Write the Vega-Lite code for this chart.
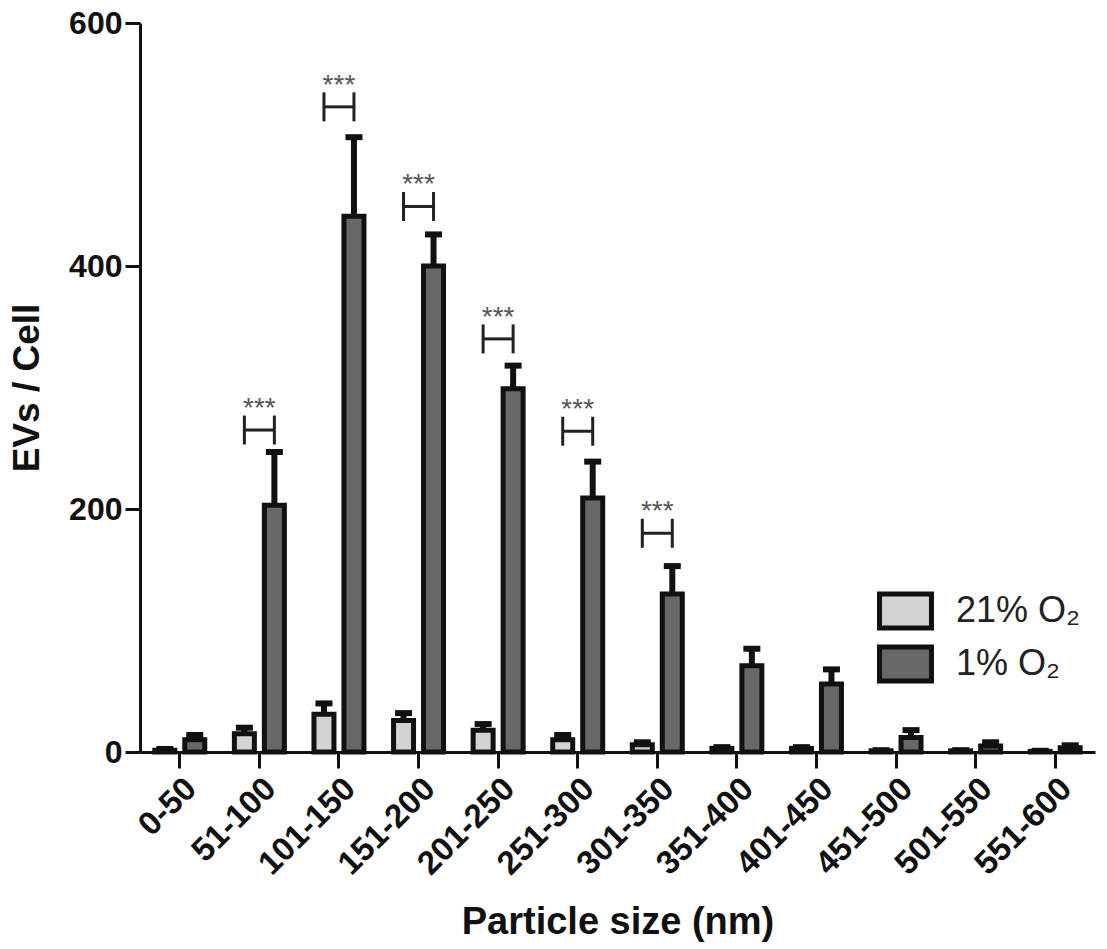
{
  "$schema": "https://vega.github.io/schema/vega-lite/v6.json",
  "autosize": {"type": "none"},
  "padding": {"left": 140, "top": 23, "right": 12, "bottom": 197},
  "width": 955,
  "height": 729,
  "background": "white",
  "config": {"view": {"stroke": null}, "font": "Liberation Sans"},
  "data": {"values": [
    {"size": "0-50", "O2": "21% O₂", "mean": 1.5, "upper": 2.5},
    {"size": "0-50", "O2": "1% O₂", "mean": 10, "upper": 14},
    {"size": "51-100", "O2": "21% O₂", "mean": 15, "upper": 20, "bracket": 265, "sig": "***"},
    {"size": "51-100", "O2": "1% O₂", "mean": 203, "upper": 247, "bracket": 265, "sig": "***"},
    {"size": "101-150", "O2": "21% O₂", "mean": 31, "upper": 40, "bracket": 531, "sig": "***"},
    {"size": "101-150", "O2": "1% O₂", "mean": 441, "upper": 506, "bracket": 531, "sig": "***"},
    {"size": "151-200", "O2": "21% O₂", "mean": 26, "upper": 32, "bracket": 449, "sig": "***"},
    {"size": "151-200", "O2": "1% O₂", "mean": 400, "upper": 426, "bracket": 449, "sig": "***"},
    {"size": "201-250", "O2": "21% O₂", "mean": 18, "upper": 23, "bracket": 340, "sig": "***"},
    {"size": "201-250", "O2": "1% O₂", "mean": 299, "upper": 318, "bracket": 340, "sig": "***"},
    {"size": "251-300", "O2": "21% O₂", "mean": 10, "upper": 14, "bracket": 264, "sig": "***"},
    {"size": "251-300", "O2": "1% O₂", "mean": 209, "upper": 239, "bracket": 264, "sig": "***"},
    {"size": "301-350", "O2": "21% O₂", "mean": 6, "upper": 8, "bracket": 180, "sig": "***"},
    {"size": "301-350", "O2": "1% O₂", "mean": 130, "upper": 153, "bracket": 180, "sig": "***"},
    {"size": "351-400", "O2": "21% O₂", "mean": 3, "upper": 4},
    {"size": "351-400", "O2": "1% O₂", "mean": 71, "upper": 85},
    {"size": "401-450", "O2": "21% O₂", "mean": 3, "upper": 4},
    {"size": "401-450", "O2": "1% O₂", "mean": 56, "upper": 68},
    {"size": "451-500", "O2": "21% O₂", "mean": 1, "upper": 1.5},
    {"size": "451-500", "O2": "1% O₂", "mean": 12, "upper": 18},
    {"size": "501-550", "O2": "21% O₂", "mean": 1, "upper": 1.5},
    {"size": "501-550", "O2": "1% O₂", "mean": 5, "upper": 8},
    {"size": "551-600", "O2": "21% O₂", "mean": 0.5, "upper": 1},
    {"size": "551-600", "O2": "1% O₂", "mean": 3.5, "upper": 5.5}
  ]},
  "encoding": {
    "x": {
      "field": "size", "type": "nominal", "sort": null,
      "scale": {"paddingInner": 0.246, "paddingOuter": 0.123},
      "title": "Particle size (nm)",
      "axis": {
        "labelAngle": -45, "labelFontSize": 33, "labelFontWeight": "bold", "labelColor": "#111",
        "tickSize": 16, "tickWidth": 3, "tickColor": "#111",
        "domainWidth": 3, "domainColor": "#111", "labelPadding": 4,
        "titleFontSize": 38, "titleFontWeight": "bold", "titleColor": "#111", "titlePadding": 23,
        "grid": false
      }
    },
    "y": {
      "field": "mean", "type": "quantitative",
      "scale": {"domain": [0, 600], "nice": false},
      "title": "EVs / Cell",
      "axis": {
        "values": [0, 200, 400, 600],
        "labelFontSize": 32, "labelFontWeight": "bold", "labelColor": "#111",
        "tickSize": 15, "tickWidth": 3, "tickColor": "#111",
        "domainWidth": 3, "domainColor": "#111", "labelPadding": 3,
        "titleFontSize": 37, "titleFontWeight": "bold", "titleColor": "#111", "titlePadding": 22,
        "grid": false
      }
    }
  },
  "layer": [
    {
      "mark": {"type": "bar", "stroke": "#111", "strokeWidth": 5, "strokeJoin": "miter"},
      "encoding": {
        "xOffset": {"field": "O2", "type": "nominal", "sort": ["21% O₂", "1% O₂"], "scale": {"paddingInner": 0.333, "paddingOuter": 0.167}},
        "fill": {
          "field": "O2", "type": "nominal",
          "scale": {"domain": ["21% O₂", "1% O₂"], "range": ["#d3d3d3", "#686868"]},
          "legend": {
            "title": null, "orient": "none", "legendX": 737, "legendY": 567,
            "symbolType": "M-1,-0.65H1V0.65H-1Z", "symbolSize": 2700,
            "symbolStrokeColor": "#111", "symbolStrokeWidth": 5,
            "labelFontSize": 36, "labelColor": "#222", "labelOffset": 22,
            "clipHeight": 42, "rowPadding": 11, "padding": 0, "labelFont": "Liberation Sans"
          }
        }
      }
    },
    {
      "mark": {"type": "rule", "strokeWidth": 6, "color": "#111"},
      "encoding": {
        "xOffset": {"field": "O2", "type": "nominal", "sort": ["21% O₂", "1% O₂"]},
        "y2": {"field": "upper"}
      }
    },
    {
      "mark": {"type": "tick", "orient": "horizontal", "size": 17, "thickness": 6, "color": "#111", "opacity": 1},
      "encoding": {
        "xOffset": {"field": "O2", "type": "nominal", "sort": ["21% O₂", "1% O₂"]},
        "y": {"field": "upper", "type": "quantitative"}
      }
    },
    {
      "transform": [{"filter": "isValid(datum.bracket)"}],
      "mark": {"type": "tick", "orient": "vertical", "size": 29, "thickness": 3, "color": "#222", "opacity": 1},
      "encoding": {
        "xOffset": {"field": "O2", "type": "nominal", "sort": ["21% O₂", "1% O₂"]},
        "y": {"field": "bracket", "type": "quantitative"}
      }
    },
    {
      "transform": [{"filter": "isValid(datum.bracket) && datum.O2 == '1% O₂'"}],
      "mark": {"type": "tick", "orient": "horizontal", "size": 31, "thickness": 3, "color": "#222", "opacity": 1},
      "encoding": {
        "y": {"field": "bracket", "type": "quantitative"}
      }
    },
    {
      "transform": [{"filter": "isValid(datum.bracket) && datum.O2 == '1% O₂'"}],
      "mark": {"type": "text", "fontSize": 28, "color": "#555", "dy": -21, "baseline": "middle", "align": "center"},
      "encoding": {
        "y": {"field": "bracket", "type": "quantitative"},
        "text": {"field": "sig"}
      }
    }
  ]
}
